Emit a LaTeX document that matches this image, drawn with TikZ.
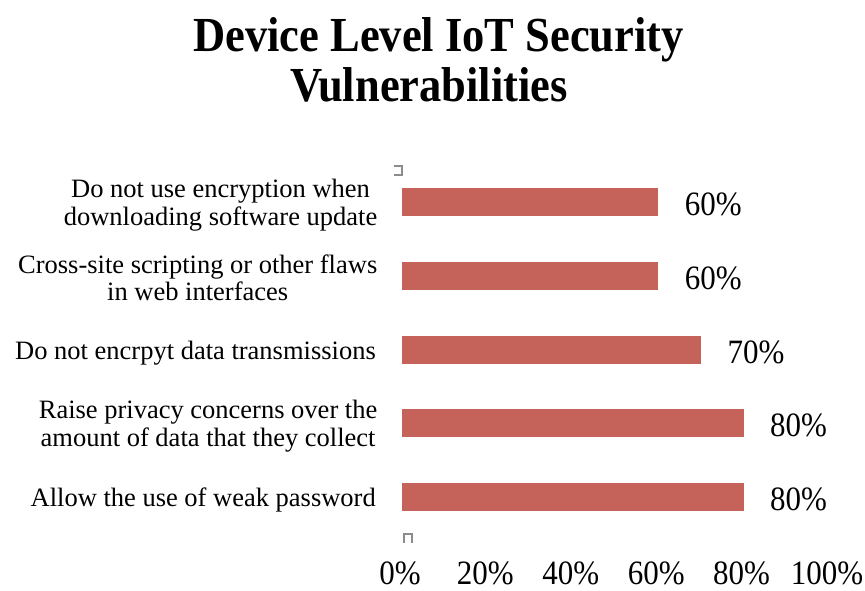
\documentclass[tikz,border=0pt]{standalone}
\usepackage{graphicx}
\usepackage{fontspec}
\setmainfont{Liberation Serif}
\definecolor{barred}{RGB}{197,98,90}
\definecolor{markgray}{RGB}{140,140,140}
\newcommand{\vstretch}[1]{\scalebox{1}[1.1]{#1}}
\begin{document}
\begin{tikzpicture}[x=1pt,y=-1pt,
  charttitle/.style={font=\fontsize{44.5}{50}\selectfont\bfseries, anchor=base, inner sep=0pt},
  cat/.style={font=\fontsize{26.5}{27.5}\selectfont, align=center, anchor=east, inner sep=0pt},
  val/.style={font=\fontsize{31}{34}\selectfont, anchor=west, inner sep=0pt},
  axlabel/.style={font=\fontsize{31}{34}\selectfont, anchor=base, inner sep=0pt},
  barbox/.style={fill=barred, draw=none, minimum height=28pt, inner sep=0pt, anchor=west},
  smallmark/.style={draw=markgray, line width=1.4pt}]
\useasboundingbox (0,0) rectangle (865,590);
\node[charttitle] (t1) at (438.5,51) {\vstretch{Device Level IoT Security}};
\node[charttitle] (t2) at (429,101) {\vstretch{Vulnerabilities}};
% bars
\foreach \n/\y/\v in {b1/202/60, b2/276/60, b3/350/70, b4/423/80, b5/497/80}{
  \node[barbox, minimum width=\v*4.27pt] (\n) at (402,\y) {};
  \node[val] (\n v) at ([xshift=26pt,yshift=-2pt]\n.east) {\vstretch{\v\%}};
}
\node[cat] (c1) at (377.5,205) {Do not use encryption when\\downloading software update};
\node[cat] (c2) at (377.5,278) {Cross-site scripting or other flaws\\in web interfaces};
\node[cat] (c3) at (376,353) {Do not encrpyt data transmissions};
\node[cat] (c4) at (377.5,426) {Raise privacy concerns over the\\amount of data that they collect};
\node[cat] (c5) at (376,499.5) {Allow the use of weak password};
% axis labels
\foreach \p [count=\i from 0] in {0,20,40,60,80,100}{
  \node[axlabel] (a\i) at (400+\p*4.27,584) {\vstretch{\p\%}};
}
% small marks
\draw[smallmark] (394,166) -- (402,166) -- (402,175) -- (394,175);
\draw[smallmark] (404,543) -- (404,534) -- (412,534) -- (412,543);
\end{tikzpicture}
\end{document}
